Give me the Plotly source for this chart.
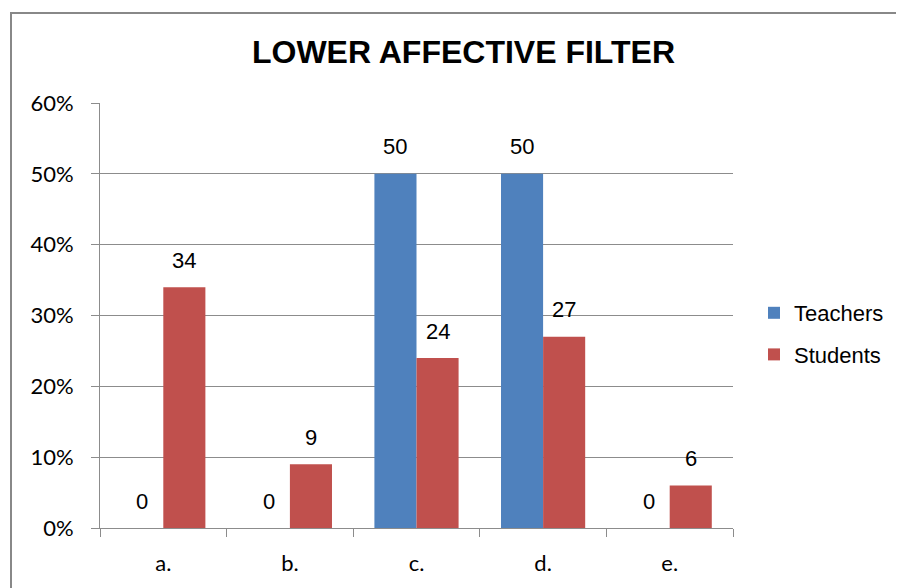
import plotly.graph_objects as go

categories = ["a.", "b.", "c.", "d.", "e."]
teachers = [0, 0, 50, 50, 0]
students = [34, 9, 24, 27, 6]
series_names = ["Teachers", "Students"]
title_text = "LOWER AFFECTIVE FILTER"

BLUE = "#4F81BD"
RED = "#C0504D"
GRID = "#8c8c8c"

OFF = 8  # default page body margin
W, H = 904 - OFF, 588 - OFF
L, R, T, B = 100 - OFF, 171, 103 - OFF, 60
pw, ph = W - L - R, H - T - B

fig = go.Figure()
fig.add_trace(go.Bar(name=series_names[0], x=categories, y=[v / 100 for v in teachers],
                     marker=dict(color=BLUE, line=dict(width=0)), legendgroup="t", hoverinfo="skip"))
fig.add_trace(go.Bar(name=series_names[1], x=categories, y=[v / 100 for v in students],
                     marker=dict(color=RED, line=dict(width=0)), legendgroup="s", hoverinfo="skip"))

bargap = 0.335
bw = pw / len(categories) * (1 - bargap) / 2
for vals, sh in ((teachers, -bw / 2), (students, bw / 2)):
    for c, v in zip(categories, vals):
        fig.add_annotation(x=c, y=v / 100, text=str(v), showarrow=False,
                           xshift=sh, yshift=27,
                           font=dict(family="Liberation Sans, Arial", size=22, color="black"))

# chart border
fig.add_shape(type="rect", xref="paper", yref="paper",
              x0=(11 - 100) / pw, x1=2, y0=-1, y1=1 + (103 - 13) / ph,
              line=dict(color="#888888", width=2), layer="above")

fig.update_layout(
    width=W, height=H,
    margin=dict(l=L, r=R, t=T, b=B, pad=0),
    paper_bgcolor="white", plot_bgcolor="white",
    barmode="group", bargap=bargap, bargroupgap=0,
    title=dict(text="<b>" + title_text + "</b>", x=(463.5 - OFF) / W, xanchor="center",
               xref="container", y=1 - (52 - OFF) / H, yanchor="middle", yref="container",
               font=dict(family="Liberation Sans, Arial", size=32, color="black")),
    legend=dict(x=(754 - 100) / pw, xanchor="left", y=(528 - 334) / ph, yanchor="middle",
                font=dict(family="Liberation Sans, Arial", size=22, color="black"),
                tracegroupgap=10, bgcolor="rgba(0,0,0,0)", itemwidth=30),
    showlegend=True,
)
fig.update_xaxes(showline=True, linecolor=GRID, linewidth=1, ticks="outside", ticklen=8,
                 tickcolor=GRID, tickson="boundaries", showgrid=False,
                 tickfont=dict(family="Lato", size=22, color="black"), ticklabelstandoff=16)
fig.update_yaxes(range=[0, 0.6], dtick=0.1, tickformat=".0%", showline=True, linecolor=GRID,
                 linewidth=1, ticks="outside", ticklen=8, tickcolor=GRID, showgrid=True,
                 gridcolor=GRID, gridwidth=1, zeroline=False,
                 tickfont=dict(family="Lato", size=22, color="black"), ticklabelstandoff=13)

fig.write_html("out.html")
